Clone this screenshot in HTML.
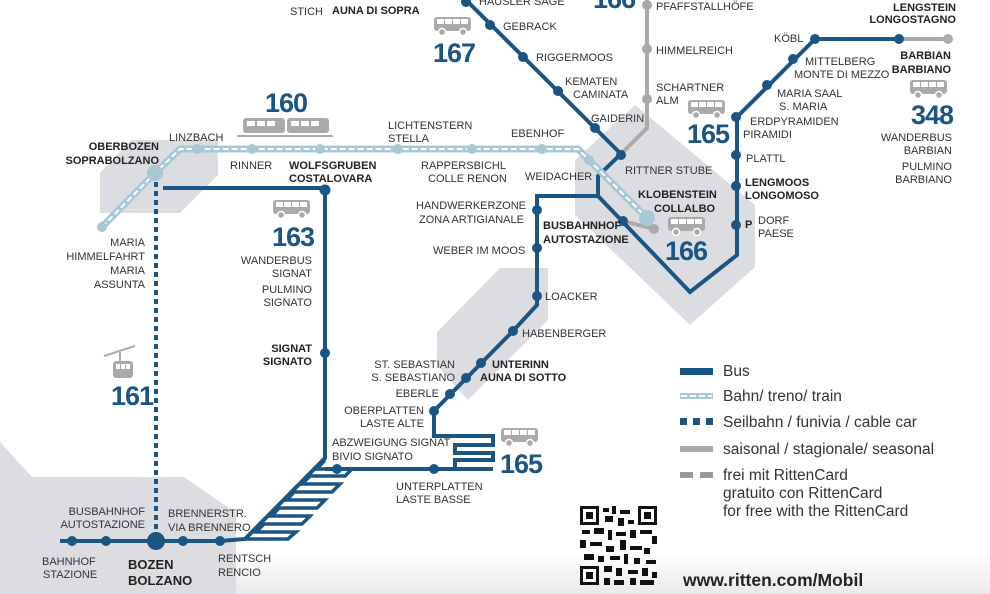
<!DOCTYPE html>
<html><head><meta charset="utf-8"><style>
html,body{margin:0;padding:0;background:#fff;}
svg{display:block;}
text{font-family:"Liberation Sans",sans-serif;font-size:11px;fill:#333;}
.b{font-weight:bold;fill:#222;}
.r{text-anchor:end;}
.n{font-weight:bold;font-size:27px;fill:#1b5583;letter-spacing:-1px;}
.lg{font-size:15.5px;fill:#333;}
</style></head><body>
<svg width="990" height="594" viewBox="0 0 990 594" xmlns="http://www.w3.org/2000/svg">
<defs>
<linearGradient id="bg" x1="0" y1="0" x2="0" y2="1"><stop offset="0" stop-color="#fff"/><stop offset="1" stop-color="#e9e9ea"/></linearGradient>
<g id="bus">
<rect x="0" y="0" width="37" height="14" rx="3" fill="#aaa"/>
<rect x="3" y="2" width="7" height="5" fill="#fff"/><rect x="11" y="2" width="7" height="5" fill="#fff"/><rect x="19" y="2" width="7" height="5" fill="#fff"/><rect x="27" y="2" width="7" height="5" fill="#fff"/>
<circle cx="8" cy="15" r="3.5" fill="#aaa" stroke="#fff" stroke-width="1.5"/><circle cx="29" cy="15" r="3.5" fill="#aaa" stroke="#fff" stroke-width="1.5"/>
</g>
</defs>
<rect width="990" height="594" fill="#fff"/>
<rect x="220" y="555" width="770" height="39" fill="url(#bg)"/>
<!-- gray areas -->
<polygon points="0,442 32,477 184,477 236,513 236,594 0,594" fill="#dcdde0"/>
<polygon points="100,173 131,140 218,140 218,175 180,213 100,213" fill="#dcdde0"/>
<polygon points="575,160 635,105 755,205 755,267 690,325 575,215" fill="#dcdde0"/>
<polygon points="437,332 500,268 548,268 548,320 468,400 437,365" fill="#dcdde0"/>

<!-- cable car 161 -->
<line x1="156" y1="182" x2="156" y2="534" stroke="#1b5583" stroke-width="4" stroke-dasharray="5 4"/>

<!-- seasonal gray -->
<polyline points="621,154 647,128 647,0" fill="none" stroke="#aaa" stroke-width="4"/>
<line x1="899" y1="39" x2="948" y2="39" stroke="#aaa" stroke-width="4"/>
<line x1="623" y1="221" x2="654" y2="229" stroke="#aaa" stroke-width="4"/>
<circle cx="647" cy="5" r="5" fill="#aaa"/><circle cx="647" cy="49" r="5" fill="#aaa"/><circle cx="647" cy="99" r="5" fill="#aaa"/>
<circle cx="948" cy="39" r="5" fill="#aaa"/><circle cx="654" cy="229" r="5" fill="#aaa"/>

<!-- bus lines -->
<g fill="none" stroke="#1b5583" stroke-width="4" stroke-linejoin="miter">
<polyline points="460,-6 621,154 598,176 598,196 537,196 537,300 537,305 513,331 434,411 434,436 493,436 493,445 455,445 455,453 493,453 493,460 455,460 455,469 493,469 325,469"/>
<polyline points="163,188 325,188 325,458 245,539 220,541 60,541"/>
<polyline points="598,196 690,292 737,255 737,117 815,39 899,39"/>
</g>
<!-- zigzag -->
<g fill="none" stroke="#1b5583" stroke-width="3.5">
<polyline points="325,460 317,469 352,469 345,476 310,476 302,484 340,484 332,492 294,492 287,500 325,500 317,508 279,508 272,516 310,516 302,524 264,524 256,532 296,532 288,539 245,539"/>
</g>

<!-- train line 160 -->
<g fill="none">
<polyline points="102,227 155,173 180,149 578,149 589,160 647,218" stroke="#a8c8d6" stroke-width="7"/>
<polyline points="102,227 155,173 180,149 578,149 589,160 647,218" stroke="#fff" stroke-width="2" stroke-dasharray="6 3"/>
</g>
<g fill="#a8c8d6">
<circle cx="102" cy="227" r="5"/><circle cx="155" cy="173" r="8"/><circle cx="197" cy="149" r="5"/><circle cx="252" cy="149" r="5"/><circle cx="320" cy="149" r="5"/><circle cx="398" cy="149" r="5"/><circle cx="472" cy="149" r="5"/><circle cx="542" cy="149" r="5"/><circle cx="589" cy="160" r="5"/><circle cx="647" cy="218" r="8"/>
</g>

<!-- blue dots -->
<g fill="#1b5583">
<circle cx="466" cy="2" r="5"/><circle cx="490" cy="25" r="5"/><circle cx="523" cy="57" r="5"/><circle cx="558" cy="91" r="5"/><circle cx="595" cy="128" r="5"/><circle cx="621" cy="155" r="5"/>
<circle cx="623" cy="221" r="5"/><circle cx="537" cy="210" r="5"/><circle cx="537" cy="248" r="5"/><circle cx="537" cy="296" r="5"/><circle cx="513" cy="331" r="5"/><circle cx="481" cy="363" r="5"/><circle cx="466" cy="378" r="5"/><circle cx="450" cy="394" r="5"/><circle cx="434" cy="411" r="5"/>
<circle cx="337" cy="469" r="5"/><circle cx="434" cy="469" r="5"/>
<circle cx="325" cy="190" r="5.5"/><circle cx="325" cy="353" r="5"/>
<circle cx="72" cy="541" r="5"/><circle cx="106" cy="541" r="5"/><circle cx="156" cy="541" r="9"/><circle cx="183" cy="541" r="5"/><circle cx="220" cy="541" r="5"/>
<circle cx="736" cy="117" r="5"/><circle cx="736" cy="155" r="5"/><circle cx="736" cy="186" r="5"/><circle cx="736" cy="225" r="5"/><circle cx="767" cy="85" r="5"/><circle cx="793" cy="59" r="5"/><circle cx="815" cy="39" r="5"/><circle cx="899" cy="39" r="5"/>
</g>

<!-- icons -->
<use href="#bus" x="434" y="17"/>
<use href="#bus" x="273" y="200"/>
<use href="#bus" x="668" y="217"/>
<use href="#bus" x="688" y="100"/>
<use href="#bus" x="910" y="80"/>
<use href="#bus" x="501" y="428"/>
<g fill="#aaa">
<rect x="243" y="118" width="42" height="15" rx="3"/><rect x="287" y="118" width="42" height="15" rx="3"/>
<line x1="237" y1="136" x2="333" y2="136" stroke="#aaa" stroke-width="2"/>
</g>
<g fill="#fff"><rect x="247" y="121" width="8" height="5"/><rect x="257" y="121" width="8" height="5"/><rect x="267" y="121" width="8" height="5"/><rect x="291" y="121" width="8" height="5"/><rect x="301" y="121" width="8" height="5"/><rect x="311" y="121" width="8" height="5"/></g>
<g>
<line x1="104" y1="356" x2="135" y2="346" stroke="#aaa" stroke-width="2"/>
<line x1="120" y1="352" x2="120" y2="361" stroke="#aaa" stroke-width="2"/>
<rect x="113" y="361" width="20" height="17" rx="3" fill="#aaa"/>
<rect x="116" y="364" width="4" height="5" fill="#fff"/><rect x="121" y="364" width="4" height="5" fill="#fff"/><rect x="126" y="364" width="4" height="5" fill="#fff"/>
</g>

<!-- numbers -->
<text class="n" x="265" y="112">160</text>
<text class="n" x="433" y="62">167</text>
<text class="n" x="272" y="246">163</text>
<text class="n" x="665" y="260">166</text>
<text class="n" x="687" y="143">165</text>
<text class="n r" x="953" y="124">348</text>
<text class="n" x="500" y="473">165</text>
<text class="n" x="111" y="405">161</text>
<text class="n" x="593" y="8">166</text>

<!-- labels -->
<text class="b" x="140" y="0">OBERBOFI</text><text class="b" x="212" y="0">EBENHOFE</text><text class="b" x="287" y="0">LOBERE</text><text class="b" x="350" y="0">OBERINN</text>
<text x="290" y="15">STICH</text><text class="b" x="332" y="14">AUNA DI SOPRA</text>
<text x="479" y="5">HÄUSLER SÄGE</text>
<text x="503" y="30">GEBRACK</text>
<text x="536" y="61">RIGGERMOOS</text>
<text x="565" y="85">KEMATEN</text><text x="573" y="98">CAMINATA</text>
<text x="591" y="122">GAIDERIN</text>
<text x="656" y="10">PFAFFSTALLHÖFE</text>
<text x="656" y="54">HIMMELREICH</text>
<text x="656" y="91">SCHARTNER</text><text x="656" y="104">ALM</text>
<text x="625" y="174">RITTNER STUBE</text>
<text class="b" x="638" y="198">KLOBENSTEIN</text><text class="b" x="654" y="212">COLLALBO</text>
<text class="b" x="543" y="229">BUSBAHNHOF</text><text class="b" x="543" y="243">AUTOSTAZIONE</text>
<text x="169" y="141">LINZBACH</text>
<text class="b r" x="159" y="150">OBERBOZEN</text><text class="b r" x="159" y="164">SOPRABOLZANO</text>
<text x="230" y="169">RINNER</text>
<text class="b" x="289" y="169">WOLFSGRUBEN</text><text class="b" x="289" y="182">COSTALOVARA</text>
<text x="388" y="129">LICHTENSTERN</text><text x="388" y="142">STELLA</text>
<text x="421" y="169">RAPPERSBICHL</text><text x="428" y="182">COLLE RENON</text>
<text x="511" y="137">EBENHOF</text>
<text x="525" y="180">WEIDACHER</text>
<text x="416" y="209">HANDWERKERZONE</text><text x="419" y="223">ZONA ARTIGIANALE</text>
<text x="433" y="254">WEBER IM MOOS</text>
<text x="545" y="300">LOACKER</text>
<text x="522" y="337">HABENBERGER</text>
<text class="r" x="312" y="264">WANDERBUS</text><text class="r" x="312" y="277">SIGNAT</text><text class="r" x="312" y="293">PULMINO</text><text class="r" x="312" y="306">SIGNATO</text>
<text class="r" x="145" y="246">MARIA</text><text class="r" x="145" y="260">HIMMELFAHRT</text><text class="r" x="145" y="274">MARIA</text><text class="r" x="145" y="288">ASSUNTA</text>
<text class="b r" x="312" y="352">SIGNAT</text><text class="b r" x="312" y="365">SIGNATO</text>
<text class="r" x="455" y="368">ST. SEBASTIAN</text><text class="r" x="455" y="381">S. SEBASTIANO</text>
<text class="b" x="492" y="368">UNTERINN</text><text class="b" x="480" y="381">AUNA DI SOTTO</text>
<text class="r" x="439" y="397">EBERLE</text>
<text class="r" x="424" y="414">OBERPLATTEN</text><text class="r" x="424" y="427">LASTE ALTE</text>
<text x="332" y="446">ABZWEIGUNG SIGNAT</text><text x="332" y="460">BIVIO SIGNATO</text>
<text x="396" y="490">UNTERPLATTEN</text><text x="396" y="503">LASTE BASSE</text>
<text class="r" x="145" y="515">BUSBAHNHOF</text><text class="r" x="145" y="528">AUTOSTAZIONE</text>
<text x="168" y="517">BRENNERSTR.</text><text x="168" y="531">VIA BRENNERO</text>
<text x="42" y="565">BAHNHOF</text><text x="43" y="578">STAZIONE</text>
<text class="b" x="128" y="569" style="font-size:13px">BOZEN</text><text class="b" x="128" y="585" style="font-size:13px">BOLZANO</text>
<text x="218" y="562">RENTSCH</text><text x="218" y="576">RENCIO</text>
<text x="750" y="125">ERDPYRAMIDEN</text><text x="743" y="138">PIRAMIDI</text>
<text x="777" y="97">MARIA SAAL</text><text x="779" y="110">S. MARIA</text>
<text x="805" y="65">MITTELBERG</text><text x="794" y="78">MONTE DI MEZZO</text>
<text x="774" y="42">KÖBL</text>
<text class="b r" x="956" y="11">LENGSTEIN</text><text class="b r" x="956" y="23">LONGOSTAGNO</text>
<text class="b r" x="951" y="59">BARBIAN</text><text class="b r" x="951" y="73">BARBIANO</text>
<text class="r" x="952" y="141">WANDERBUS</text><text class="r" x="952" y="154">BARBIAN</text><text class="r" x="952" y="170">PULMINO</text><text class="r" x="952" y="183">BARBIANO</text>
<text x="746" y="162">PLATTL</text>
<text class="b" x="745" y="186">LENGMOOS</text><text class="b" x="745" y="199">LONGOMOSO</text>
<text class="b" x="745" y="228">P</text><text x="758" y="224">DORF</text><text x="758" y="237">PAESE</text>

<!-- legend -->
<rect x="680" y="368" width="33" height="7" fill="#1b5583"/>
<rect x="680" y="393" width="33" height="6" fill="#a8c8d6"/><line x1="681" y1="396" x2="712" y2="396" stroke="#fff" stroke-width="2" stroke-dasharray="6 3"/>
<rect x="680" y="418" width="7" height="7" fill="#1b5583"/><rect x="693" y="418" width="7" height="7" fill="#1b5583"/><rect x="706" y="418" width="7" height="7" fill="#1b5583"/>
<rect x="680" y="446" width="33" height="6" fill="#aaa"/>
<rect x="680" y="472" width="13" height="6" fill="#999"/><rect x="700" y="472" width="13" height="6" fill="#999"/>
<text class="lg" x="723" y="376">Bus</text>
<text class="lg" x="723" y="401">Bahn/ treno/ train</text>
<text class="lg" x="723" y="427">Seilbahn / funivia / cable car</text>
<text class="lg" x="723" y="454">saisonal / stagionale/ seasonal</text>
<text class="lg" x="723" y="480">frei mit RittenCard</text>
<text class="lg" x="723" y="498">gratuito con RittenCard</text>
<text class="lg" x="723" y="516">for free with the RittenCard</text>
<text x="683" y="586" style="font-size:17.5px;font-weight:bold;fill:#222">www.ritten.com/Mobil</text>

<!-- QR -->
<g fill="#111">
<rect x="580" y="506" width="19" height="19"/><rect x="638" y="506" width="19" height="19"/><rect x="580" y="566" width="19" height="19"/>
<rect x="603" y="508" width="6" height="4"/><rect x="612" y="506" width="4" height="8"/><rect x="620" y="510" width="10" height="4"/><rect x="605" y="516" width="8" height="6"/><rect x="618" y="518" width="6" height="8"/><rect x="628" y="520" width="6" height="4"/>
<rect x="582" y="530" width="8" height="4"/><rect x="594" y="528" width="10" height="6"/><rect x="608" y="530" width="4" height="10"/><rect x="616" y="532" width="10" height="4"/><rect x="630" y="530" width="6" height="8"/><rect x="640" y="530" width="12" height="4"/><rect x="652" y="536" width="5" height="8"/>
<rect x="580" y="540" width="6" height="8"/><rect x="590" y="542" width="12" height="4"/><rect x="606" y="546" width="8" height="6"/><rect x="620" y="540" width="6" height="10"/><rect x="630" y="546" width="12" height="4"/><rect x="644" y="548" width="6" height="6"/>
<rect x="584" y="554" width="10" height="6"/><rect x="598" y="556" width="6" height="6"/><rect x="610" y="556" width="10" height="4"/><rect x="624" y="554" width="4" height="10"/><rect x="634" y="558" width="6" height="6"/><rect x="646" y="560" width="10" height="4"/>
<rect x="604" y="566" width="8" height="6"/><rect x="616" y="568" width="6" height="8"/><rect x="628" y="570" width="10" height="4"/><rect x="642" y="568" width="6" height="8"/><rect x="652" y="572" width="5" height="6"/>
<rect x="604" y="578" width="6" height="7"/><rect x="614" y="580" width="10" height="5"/><rect x="630" y="578" width="6" height="7"/><rect x="640" y="580" width="14" height="5"/>
</g>
<g fill="#fff"><rect x="583" y="509" width="13" height="13"/><rect x="641" y="509" width="13" height="13"/><rect x="583" y="569" width="13" height="13"/></g>
<g fill="#111"><rect x="586" y="512" width="7" height="7"/><rect x="644" y="512" width="7" height="7"/><rect x="586" y="572" width="7" height="7"/></g>
</svg>
</body></html>
